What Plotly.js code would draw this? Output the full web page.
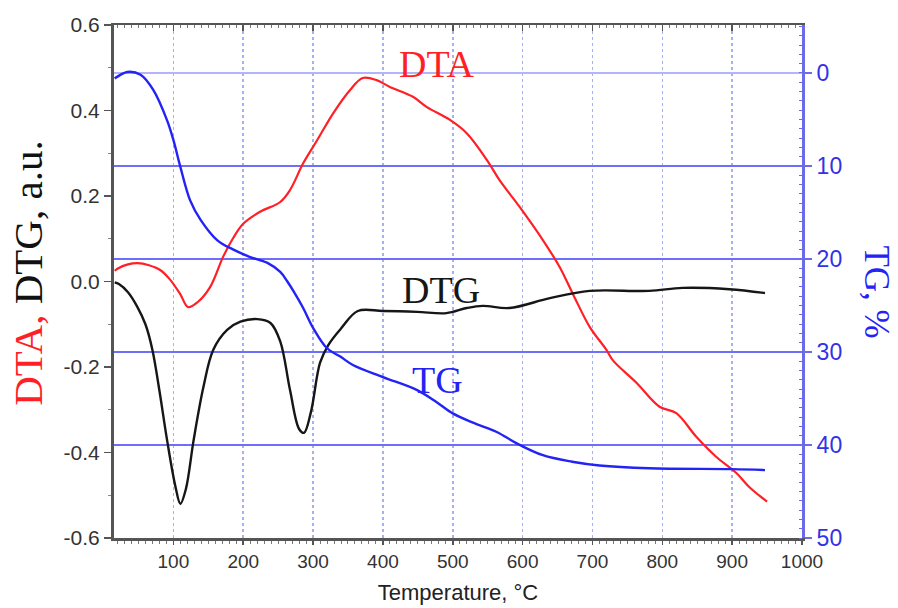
<!DOCTYPE html>
<html>
<head>
<meta charset="utf-8">
<script src="https://cdn.plot.ly/plotly-3.0.1.min.js"></script>
<style>html,body{margin:0;padding:0;background:#fff;}#chart{width:898px;height:608px;}</style>
</head>
<body>
<div id="chart"></div>
<script>
// ---- data ----
var dtaT = [16, 20, 35, 49, 65, 81, 95, 110, 121, 135, 153, 171, 185, 200, 224, 253, 267, 286, 306, 329, 353, 371, 391, 410, 443, 463, 496, 520, 549, 567, 596, 629, 653, 674, 696, 720, 729, 763, 796, 820, 849, 877, 906, 924, 950];
var dtaV = [0.025, 0.03, 0.04, 0.043, 0.038, 0.027, 0.005, -0.03, -0.06, -0.048, -0.012, 0.057, 0.1, 0.135, 0.163, 0.186, 0.214, 0.277, 0.331, 0.394, 0.448, 0.476, 0.471, 0.455, 0.432, 0.408, 0.378, 0.347, 0.284, 0.237, 0.174, 0.097, 0.034, -0.036, -0.106, -0.16, -0.184, -0.237, -0.293, -0.308, -0.364, -0.41, -0.448, -0.48, -0.515];

var dtgT = [16, 22, 35, 48, 60, 70, 80, 91, 103, 110, 118, 129, 143, 157, 177, 196, 220, 239, 253, 267, 280, 287, 297, 310, 322, 340, 364, 400, 449, 491, 520, 543, 581, 639, 696, 781, 829, 896, 947];
var dtgV = [-0.002, -0.006, -0.025, -0.058, -0.1, -0.16, -0.255, -0.371, -0.48, -0.52, -0.485, -0.371, -0.247, -0.16, -0.113, -0.094, -0.088, -0.097, -0.14, -0.254, -0.345, -0.354, -0.305, -0.19, -0.148, -0.11, -0.069, -0.069, -0.071, -0.074, -0.062, -0.057, -0.062, -0.039, -0.022, -0.022, -0.015, -0.018, -0.027];

var tgT = [16, 20, 34, 53, 71, 91, 100, 110, 124, 139, 163, 186, 210, 234, 253, 263, 273, 286, 300, 320, 339, 357, 400, 449, 477, 500, 529, 563, 591, 629, 671, 710, 781, 900, 947];
var tgV = [0.6, 0.4, -0.1, 0.2, 1.8, 5.1, 7.2, 10.1, 13.7, 15.8, 18.0, 19.0, 19.8, 20.4, 21.4, 22.4, 23.6, 25.3, 27.4, 29.6, 30.5, 31.4, 32.7, 34.1, 35.4, 36.6, 37.6, 38.6, 39.8, 41.1, 41.8, 42.2, 42.5, 42.6, 42.7];

var leftTickVals = [0.6, 0.4, 0.2, 0.0, -0.2, -0.4, -0.6];
var leftTickText = ["0.6", "0.4", "0.2", "0.0", "-0.2", "-0.4", "-0.6"];
var xTickVals = [100, 200, 300, 400, 500, 600, 700, 800, 900, 1000];
var xTickText = ["100", "200", "300", "400", "500", "600", "700", "800", "900", "1000"];
var tgTickVals = [0, 10, 20, 30, 40, 50];
var tgTickText = ["0", "10", "20", "30", "40", "50"];

var RED = '#ff1f26', BLUE = '#2323f5', BLACK = '#161616';
var sans = 'Liberation Sans, Arial, sans-serif';
var serif = 'Liberation Serif, Times New Roman, serif';

var traces = [
  {x: dtaT, y: dtaV, type: 'scatter', mode: 'lines', xaxis: 'x', yaxis: 'y',
   line: {color: RED, width: 2.2, shape: 'spline', smoothing: 1.0}, hoverinfo: 'skip'},
  {x: dtgT, y: dtgV, type: 'scatter', mode: 'lines', xaxis: 'x', yaxis: 'y',
   line: {color: BLACK, width: 2.4, shape: 'spline', smoothing: 1.0}, hoverinfo: 'skip'},
  {x: tgT, y: tgV, type: 'scatter', mode: 'lines', xaxis: 'x2', yaxis: 'y2',
   line: {color: BLUE, width: 2.4, shape: 'spline', smoothing: 1.0}, hoverinfo: 'skip'}
];

var layout = {
  width: 898, height: 608,
  margin: {l: 114, r: 96, t: 25, b: 70, pad: 0},
  paper_bgcolor: '#ffffff', plot_bgcolor: '#ffffff',
  showlegend: false,
  xaxis: {
    range: [15, 1000], tickvals: xTickVals, ticktext: xTickText,
    showline: true, linecolor: '#555555', linewidth: 3,
    ticks: 'outside', ticklen: 4, tickwidth: 1.5, tickcolor: '#555555',
    minor: {dtick: 10, tick0: 0, ticks: 'outside', ticklen: 3, tickwidth: 1, tickcolor: '#777777', showgrid: false},
    showgrid: true, gridcolor: '#a9b0ef', griddash: 'dot', gridwidth: 1.5,
    zeroline: false,
    tickfont: {family: sans, size: 19, color: '#333333'},
    title: {text: 'Temperature, °C', font: {family: sans, size: 22, color: '#222222'}, standoff: 14}
  },
  xaxis2: {
    matches: 'x', overlaying: 'x', side: 'top', anchor: 'y2',
    range: [15, 1000], tickvals: xTickVals,
    showline: true, linecolor: '#555555', linewidth: 2,
    ticks: 'inside', ticklen: 6, tickwidth: 1.5, tickcolor: '#555555',
    minor: {dtick: 10, tick0: 0, ticks: 'inside', ticklen: 3, tickwidth: 1, tickcolor: '#777777', showgrid: false},
    showticklabels: false, showgrid: false, zeroline: false
  },
  yaxis: {
    range: [-0.6, 0.6], tickvals: leftTickVals, ticktext: leftTickText,
    showline: true, linecolor: '#555555', linewidth: 3,
    ticks: 'outside', ticklen: 7, tickwidth: 1.5, tickcolor: '#555555',
    minor: {dtick: 0.1, tick0: 0, ticks: 'outside', ticklen: 3, tickwidth: 1, tickcolor: '#888888', showgrid: false},
    showgrid: false, zeroline: false,
    tickfont: {family: sans, size: 21, color: '#333333'}
  },
  yaxis2: {
    overlaying: 'y', side: 'right', anchor: 'x2',
    range: [50, -5.15], tickvals: tgTickVals, ticktext: tgTickText,
    showline: true, linecolor: '#6b6bea', linewidth: 3,
    ticks: 'outside', ticklen: 7, tickwidth: 1.5, tickcolor: '#6b6bea',
    minor: {dtick: 1, tick0: 0, ticks: 'inside', ticklen: 3, tickwidth: 1, tickcolor: '#6b6bea', showgrid: false},
    showgrid: true, gridcolor: '#6e6efb', gridwidth: 1.3,
    zeroline: true, zerolinecolor: '#b4b4fb', zerolinewidth: 2,
    tickfont: {family: sans, size: 23, color: '#3232e6'}
  },
  annotations: [
    {text: '<span style="color:' + RED + '">DTA,</span> DTG, a.u.', xref: 'paper', yref: 'paper',
     x: -0.125, y: 0.515, textangle: -90, showarrow: false, xanchor: 'center', yanchor: 'middle',
     font: {family: serif, size: 41, color: '#111111'}},
    {text: 'TG, %', xref: 'paper', yref: 'paper', x: 1.108, y: 0.48, textangle: 90,
     showarrow: false, xanchor: 'center', yanchor: 'middle',
     font: {family: serif, size: 35, color: BLUE}},
    {text: 'DTA', xref: 'paper', yref: 'paper', x: 0.4695, y: 0.924, showarrow: false,
     xanchor: 'center', yanchor: 'middle', font: {family: serif, size: 38, color: RED}},
    {text: 'DTG', xref: 'paper', yref: 'paper', x: 0.475, y: 0.483, showarrow: false,
     xanchor: 'center', yanchor: 'middle', font: {family: serif, size: 38, color: BLACK}},
    {text: 'TG', xref: 'paper', yref: 'paper', x: 0.4695, y: 0.308, showarrow: false,
     xanchor: 'center', yanchor: 'middle', font: {family: serif, size: 38, color: BLUE}}
  ]
};

Plotly.newPlot('chart', traces, layout, {staticPlot: true, displayModeBar: false});
</script>
</body>
</html>
